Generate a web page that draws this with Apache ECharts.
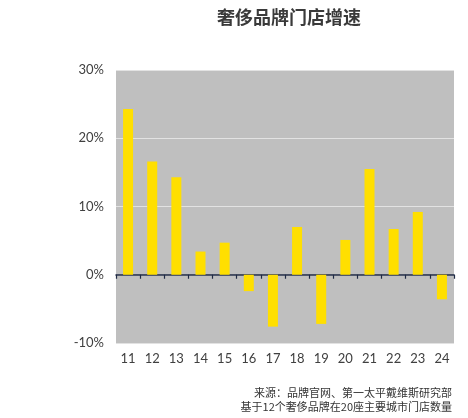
<!DOCTYPE html>
<html><head><meta charset="utf-8">
<script src="https://cdn.jsdelivr.net/npm/echarts@6/dist/echarts.min.js"></script>
<style>html,body{margin:0;padding:0;background:#fff}#c{width:468px;height:418px}</style>
</head><body><div id="c"></div>
<script>
const categories = ['11','12','13','14','15','16','17','18','19','20','21','22','23','24'];
const growth = [24.3, 16.6, 14.3, 3.4, 4.7, -2.4, -7.6, 7.0, -7.2, 5.1, 15.5, 6.7, 9.2, -3.6];
const yTicks = { min: -10, max: 30, interval: 10 };
const titleText = '奢侈品牌门店增速';
const sourceLines = ['来源：品牌官网、第一太平戴维斯研究部', '基于12个奢侈品牌在20座主要城市门店数量'];

const chart = echarts.init(document.getElementById('c'), null, { renderer: 'canvas' });
chart.setOption({
  backgroundColor: '#fff',
  animation: false,
  title: {
    text: titleText, left: 284, textAlign: 'center', top: 3,
    textStyle: { fontFamily: 'Noto Sans CJK SC', fontSize: 18, fontWeight: 'bold', color: '#3a3a3a' }
  },
  graphic: [{
    type: 'text', right: 16, top: 386,
    style: { text: sourceLines.join('\n'), font: '11px "Noto Sans CJK SC"', fill: '#333', textAlign: 'right', lineHeight: 14 }
  }],
  grid: { left: 116, right: 14, top: 70, bottom: 75, show: true, backgroundColor: '#bfbfbf', borderWidth: 0 },
  xAxis: [{
    type: 'category', data: categories, position: 'bottom',
    axisLine: { show: false, onZero: false }, axisTick: { show: false },
    axisLabel: { margin: 9, fontFamily: 'Lato', fontSize: 13, color: '#404040' }
  }, {
    type: 'category', data: categories, position: 'top',
    axisLine: { show: true, onZero: true, lineStyle: { color: '#1f2a44', width: 1.5 } },
    axisTick: { show: true, inside: true, length: 4, lineStyle: { color: '#1f2a44', width: 1.2 } },
    axisLabel: { show: false }
  }],
  yAxis: {
    type: 'value', min: yTicks.min, max: yTicks.max, interval: yTicks.interval,
    axisLine: { show: false }, axisTick: { show: false },
    splitLine: { show: true, lineStyle: { color: '#e2e2e2', width: 1 } },
    axisLabel: { formatter: '{value}%', margin: 12, fontFamily: 'Lato', fontSize: 13, color: '#404040' }
  },
  series: [{
    type: 'bar', data: growth, barWidth: 10, xAxisIndex: 0,
    itemStyle: { color: '#ffdf00' }
  }]
});
</script></body></html>
